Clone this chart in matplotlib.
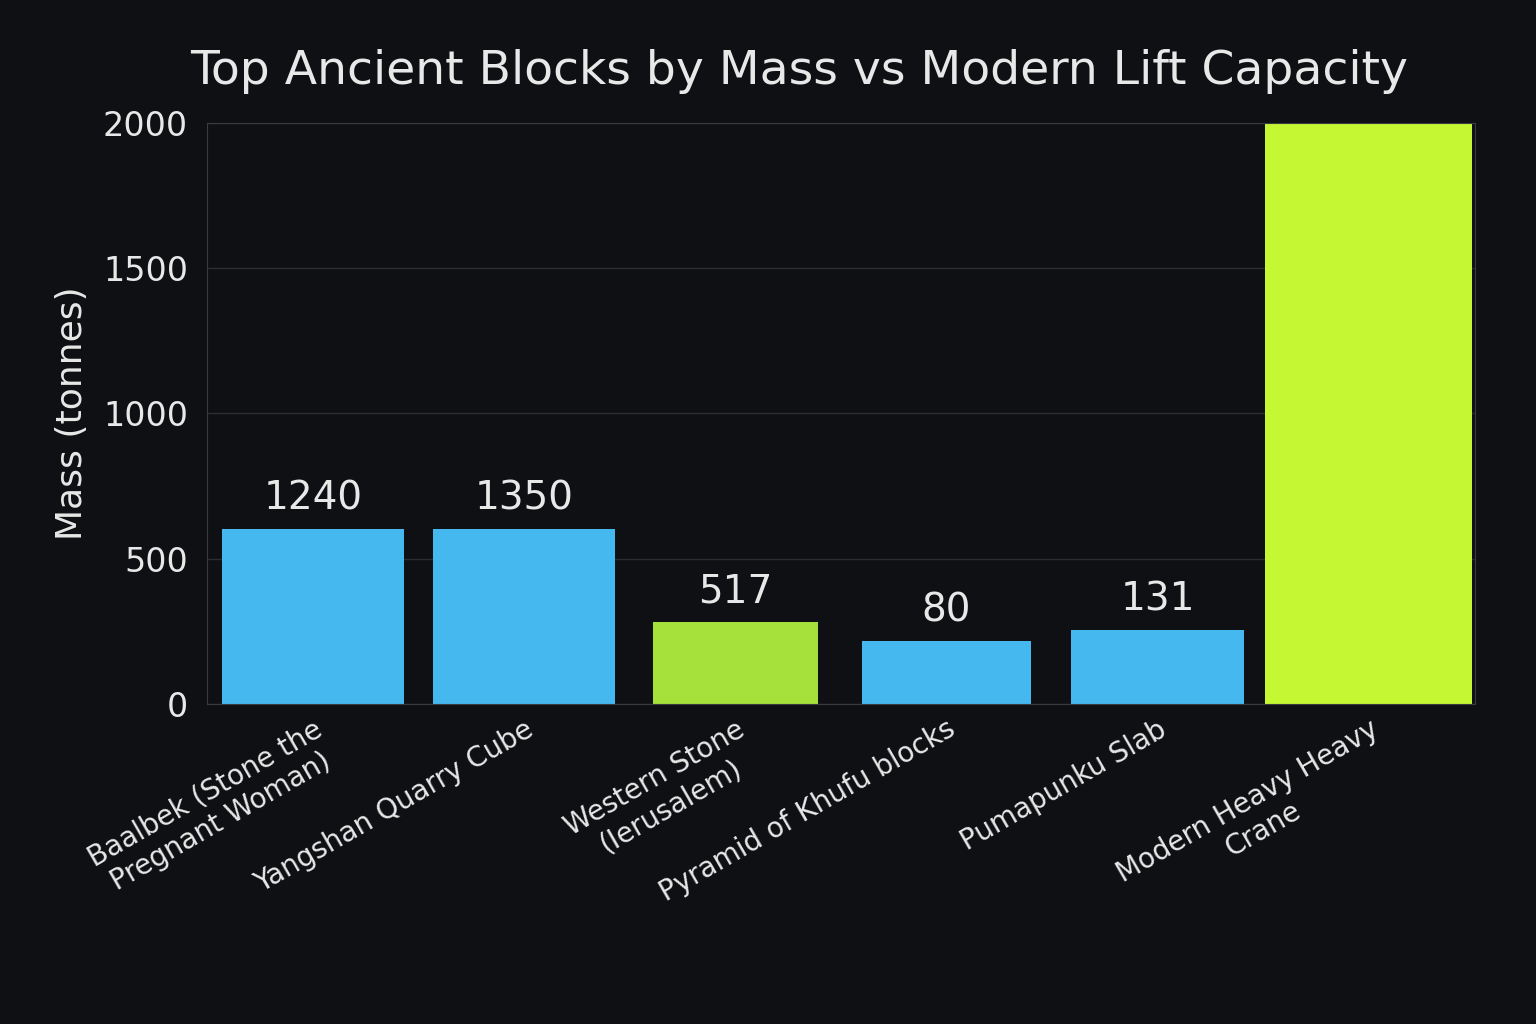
import matplotlib.pyplot as plt

categories = ["Baalbek (Stone the\nPregnant Woman)", "Yangshan Quarry Cube",
              "Western Stone\n(Ierusalem)", "Pyramid of Khufu blocks",
              "Pumapunku Slab", "Modern Heavy Heavy\nCrane"]
bar_heights = [602, 602, 282, 217, 255, 2000]
value_labels = ["1240", "1350", "517", "80", "131", None]
colors = ["#45b8f0", "#45b8f0", "#a6e03a", "#45b8f0", "#45b8f0", "#c5f832"]
widths = [0.86, 0.86, 0.78, 0.8, 0.82, 0.98]

BG = "#0f1013"
TXT = "#e8e8e8"

fig = plt.figure(figsize=(15.36, 10.24), dpi=100, facecolor=BG)
ax = fig.add_axes([0.135, 0.3125, 0.825, 0.5675])
ax.set_facecolor(BG)

x = range(len(categories))
ax.bar(x, bar_heights, width=widths, color=colors, zorder=2)
for xi, h, lab in zip(x, bar_heights, value_labels):
    if lab:
        ax.text(xi, h + 40, lab, ha="center", va="bottom", fontsize=28, color=TXT)

ax.set_xlim(-0.5, 5.5)
ax.set_ylim(0, 2000)
ax.set_yticks([0, 500, 1000, 1500, 2000])
ax.yaxis.grid(True, color="#2c2d31", lw=1, zorder=0)
ax.tick_params(axis="y", labelsize=24, colors=TXT, length=0, pad=14)
ax.tick_params(axis="x", length=0, pad=8)
ax.set_xticks(list(x))
ax.set_xticklabels(categories, rotation=30, ha="right", rotation_mode="anchor",
                   fontsize=20, color=TXT, multialignment="center")
for s in ax.spines.values():
    s.set_color("#3a3b40")
ax.set_ylabel("Mass (tonnes)", fontsize=26, color=TXT, labelpad=10)
fig.text(0.52, 0.93, "Top Ancient Blocks by Mass vs Modern Lift Capacity",
         ha="center", va="center", fontsize=34, color=TXT)

fig.savefig("out.png", facecolor=BG)
